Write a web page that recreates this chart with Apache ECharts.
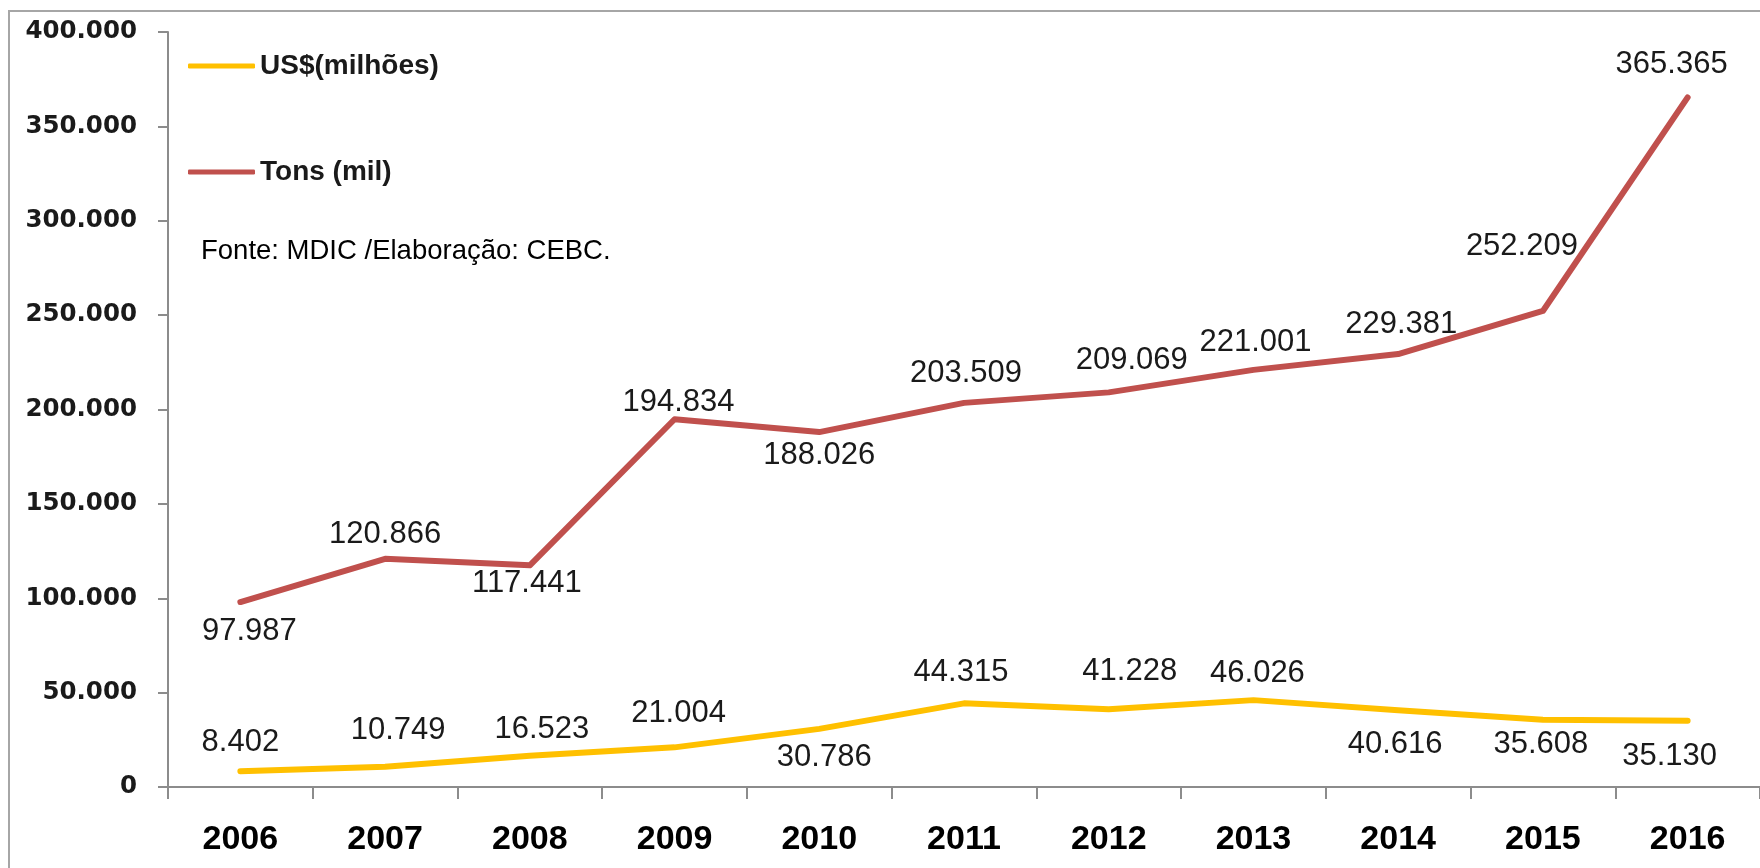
<!DOCTYPE html>
<html>
<head>
<meta charset="utf-8">
<script src="https://cdn.jsdelivr.net/npm/echarts@6/dist/echarts.min.js"></script>
<style>
  html, body { margin: 0; padding: 0; background: #fff; }
  #chart { position: absolute; left: 0; top: 0; width: 1760px; height: 868px; }
  #frame { position: absolute; left: 8px; top: 10px; width: 1760px; height: 868px;
           border-left: 2px solid #a6a6a6; border-top: 2px solid #a6a6a6; box-sizing: border-box; pointer-events: none; }
</style>
</head>
<body>
<div id="chart"></div>
<div id="frame"></div>
<script>
const years = ['2006','2007','2008','2009','2010','2011','2012','2013','2014','2015','2016'];
const usdMillions = [8402, 10749, 16523, 21004, 30786, 44315, 41228, 46026, 40616, 35608, 35130];
const tonsThousand = [97987, 120866, 117441, 194834, 188026, 203509, 209069, 221001, 229381, 252209, 365365];
const seriesNames = ['US$(milhões)', 'Tons (mil)'];
const sourceNote = 'Fonte: MDIC /Elaboração: CEBC.';

// label placement (style only)
const usdLabelPos = [
  ['top',[0,1]], ['top',[13,-7]], ['top',[12,3]], ['top',[4,-4]], ['bottom',[5,-1]],
  ['top',[-3,-1]], ['top',[21,-8]], ['top',[4,3]], ['bottom',[-3,5]], ['bottom',[-2,-5]], ['bottom',[-18,6]]
];
const tonsLabelPos = [
  ['bottom',[9,0]], ['top',[0,5]], ['bottom',[-3,-11]], ['top',[4,13]], ['bottom',[0,-6]],
  ['top',[2,0]], ['top',[23,-2]], ['top',[2,2]], ['top',[3,0]], ['top',[-21,-35]], ['top',[-16,-3]]
];

function fmt(v) {
  return String(v).replace(/\B(?=(\d{3})+(?!\d))/g, '.');
}
function buildData(values, pos) {
  return values.map((v, i) => ({
    value: v,
    label: { position: pos[i][0], offset: pos[i][1] }
  }));
}

const FONT = "'Liberation Sans', Arial, sans-serif";
const chart = echarts.init(document.getElementById('chart'), null, { renderer: 'canvas' });

chart.setOption({
  animation: false,
  backgroundColor: '#ffffff',
  textStyle: { fontFamily: FONT },
  title: {
    text: sourceNote,
    left: 196, top: 232,
    textStyle: { fontFamily: FONT, fontSize: 27.5, fontWeight: 'normal', color: '#000' }
  },
  legend: {
    orient: 'vertical',
    left: 183, top: 45,
    itemGap: 74,
    itemWidth: 67, itemHeight: 5,
    icon: 'roundRect',
    textStyle: { fontFamily: FONT, fontSize: 28, fontWeight: 'bold', color: '#1a1a1a', lineHeight: 32 },
    data: seriesNames
  },
  grid: { left: 168, top: 32, width: 1595, height: 755, containLabel: false },
  xAxis: {
    type: 'category',
    data: years,
    boundaryGap: true,
    axisLine: { lineStyle: { color: '#8c8c8c', width: 2 } },
    axisTick: { show: true, length: 12, inside: false, alignWithLabel: false, lineStyle: { color: '#8c8c8c', width: 2 } },
    axisLabel: { margin: 36, fontFamily: FONT, fontSize: 34, fontWeight: 'bold', color: '#000' },
    splitLine: { show: false }
  },
  yAxis: {
    type: 'value',
    min: 0, max: 400000, interval: 50000,
    axisLine: { show: true, lineStyle: { color: '#8c8c8c', width: 2 } },
    axisTick: { show: true, length: 10, lineStyle: { color: '#8c8c8c', width: 2 } },
    axisLabel: { margin: 31, fontFamily: "'DejaVu Sans', sans-serif", fontSize: 24.5, fontWeight: 'bold', color: '#1a1a1a', formatter: v => fmt(v) },
    splitLine: { show: false }
  },
  series: [
    {
      name: seriesNames[0],
      type: 'line',
      data: buildData(usdMillions, usdLabelPos),
      symbol: 'circle', symbolSize: 0.1,
      itemStyle: { color: '#FFC000' },
      lineStyle: { color: '#FFC000', width: 6, cap: 'round', join: 'round' },
      label: { show: true, distance: 14, fontFamily: FONT, fontSize: 31, color: '#1a1a1a', formatter: p => fmt(p.value) },
      z: 3
    },
    {
      name: seriesNames[1],
      type: 'line',
      data: buildData(tonsThousand, tonsLabelPos),
      symbol: 'circle', symbolSize: 0.1,
      itemStyle: { color: '#C0504D' },
      lineStyle: { color: '#C0504D', width: 6, cap: 'round', join: 'round' },
      label: { show: true, distance: 14, fontFamily: FONT, fontSize: 31, color: '#1a1a1a', formatter: p => fmt(p.value) },
      z: 3
    }
  ]
});
</script>
</body>
</html>
